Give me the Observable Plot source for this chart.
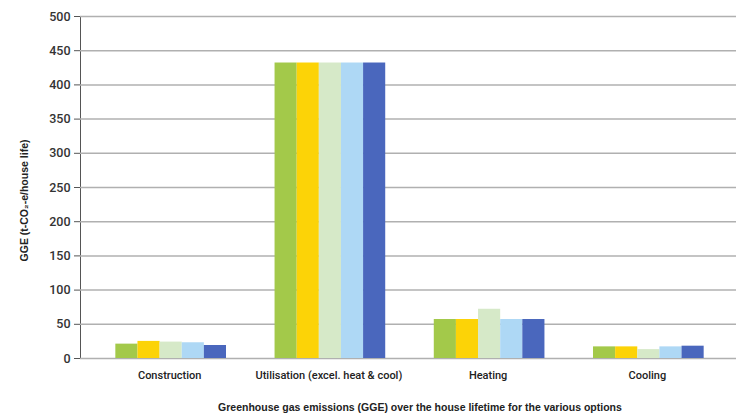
<!DOCTYPE html>
<html>
<head>
<meta charset="utf-8">
<script src="https://cdn.jsdelivr.net/npm/d3@7"></script>
<script src="https://cdn.jsdelivr.net/npm/@observablehq/plot@0.6"></script>
<style>
  html, body { margin: 0; padding: 0; background: #fff; }
  #chart svg { display: block; font-family: Roboto, "Liberation Sans", sans-serif; }
  #chart g[aria-label="y-axis tick label"] text { font-size: 12.5px; font-weight: 500; fill: #333; }
  #chart g[aria-label="x-axis tick label"] text { font-size: 11px; font-weight: 500; fill: #222; }
  #caption { width: 736px; box-sizing: border-box; padding-left: 104px; padding-top: 9px; text-align: center;
             font: bold 10.5px "Liberation Sans", Arial, sans-serif; line-height: 12px; color: #222; }
</style>
</head>
<body>
<div id="chart"></div>
<div id="caption">Greenhouse gas emissions (GGE) over the house lifetime for the various options</div>
<script>
// ---- data ----
const categories = ["Construction", "Utilisation (excel. heat & cool)", "Heating", "Cooling"];
const seriesNames = ["Option 1", "Option 2", "Option 3", "Option 4", "Option 5"];
const option1 = [21, 432, 57, 17];
const option2 = [25, 432, 57, 17];
const option3 = [24, 432, 72, 13];
const option4 = [23, 432, 57, 17];
const option5 = [19, 432, 57, 18];
const seriesColors = ["#a3c94a", "#fcd307", "#d6e9c8", "#aed8f5", "#4a67bd"];
const yTicks = [0, 50, 100, 150, 200, 250, 300, 350, 400, 450, 500];
const yLabel = "GGE (t-CO\u2082-e/house life)";

const seriesValues = [option1, option2, option3, option4, option5];

// ---- layout ----
const W = 736, H = 392, mL = 80, mR = 0, mT = 16, mB = 34;
const xOpts = {type: "band", domain: categories, range: [mL, W - mR], paddingInner: 0, paddingOuter: 0.06, round: false};
const bw = Plot.scale({x: xOpts}).bandwidth;
const groupW = bw * 0.695;
const barW = groupW / seriesNames.length;
const off = (bw - groupW) / 2 + 1.5;

const barMarks = seriesNames.map((name, i) =>
  Plot.barY(
    categories.map((c, j) => ({category: c, series: name, value: seriesValues[i][j]})),
    {x: "category", y: "value", fill: seriesColors[i],
     insetLeft: off + i * barW, insetRight: bw - off - (i + 1) * barW}
  )
);

const chart = Plot.plot({
  width: W, height: H,
  marginLeft: mL, marginRight: mR, marginTop: mT, marginBottom: mB,
  style: {color: "#555", background: "#fff"},
  x: {domain: categories, paddingInner: 0, paddingOuter: 0.06, round: false,
      tickSize: 0, tickPadding: 13, label: null},
  y: {domain: [0, 500], ticks: yTicks, tickSize: 6, tickPadding: 4, line: true, label: null},
  marks: [
    Plot.ruleY(yTicks, {stroke: "#b0b0b0", strokeWidth: 1.5}),
    ...barMarks,
    Plot.text([yLabel], {frameAnchor: "left", dx: -56, dy: 13, rotate: -90, textAnchor: "middle",
      text: d => d, fill: "#222", fontSize: 10.5, fontWeight: "bold",
      fontFamily: "'Liberation Sans', Arial, sans-serif"})
  ]
});
document.getElementById("chart").appendChild(chart);
</script>
</body>
</html>
